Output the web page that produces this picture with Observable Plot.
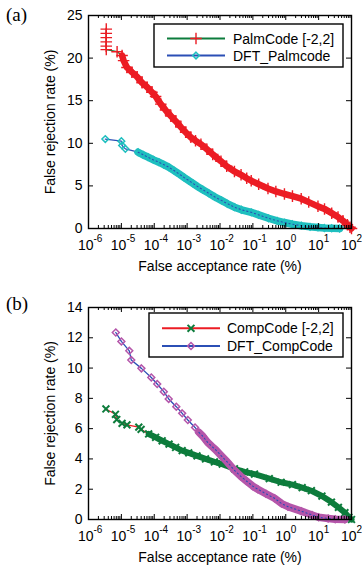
<!DOCTYPE html>
<html><head><meta charset="utf-8">
<script src="https://cdn.jsdelivr.net/npm/d3@7"></script>
<script src="https://cdn.jsdelivr.net/npm/@observablehq/plot@0.6"></script>
<style>
body{margin:0;background:#fff;}
#wrap{position:relative;width:362px;height:571px;font-family:"Liberation Sans",Arial,sans-serif;}
.panel{position:absolute;left:0;}
.plabel{position:absolute;font-family:"Liberation Serif","Times New Roman",serif;font-size:19px;color:#000;}
</style></head><body>
<div id="wrap"></div>
<script>
// ---------- data ----------
const xTickValues = [1e-6, 1e-5, 1e-4, 1e-3, 1e-2, 1e-1, 1e0, 1e1, 1e2];
const xTickExp = ["-6", "-5", "-4", "-3", "-2", "-1", "0", "1", "2"];
const xLabel = "False acceptance rate (%)";
const yLabel = "False rejection rate (%)";

const yTicksA = [0, 5, 10, 15, 20, 25];
const yTicksB = [0, 2, 4, 6, 8, 10, 12, 14];

// (a) PalmCode [-2,2]
const palmFar = [3.47e-6, 3.47e-6, 3.47e-6, 3.47e-6, 3.47e-6, 3.47e-6, 7.41e-6, 1.05e-5, 1.17e-5, 1.48e-5, 2.09e-5, 3.02e-5, 4.27e-5, 6.03e-5, 8.51e-5, 1.1e-4, 1.58e-4, 2.2e-4, 3.2e-4, 4.5e-4, 6.46e-4, 9e-4, 1.3e-3, 1.8e-3, 2.63e-3, 4e-3, 6e-3, 1.07e-2, 1.6e-2, 2.75e-2, 4.37e-2, 6.5e-2, 8.91e-2, 0.15, 0.288, 0.5, 0.912, 1.6, 2.95, 5, 9.55, 15.1, 25, 38.9, 55, 75, 90, 100];
const palmFrr = [23.4, 22.9, 22.4, 21.9, 21.4, 21.0, 20.75, 20.3, 19.7, 18.9, 18.35, 17.8, 17.1, 16.6, 16.0, 15.5, 14.6, 13.9, 13.2, 12.6, 11.9, 11.3, 10.7, 10.3, 9.9, 9.3, 8.7, 7.9, 7.3, 6.7, 6.3, 5.9, 5.6, 5.2, 4.7, 4.35, 4.05, 3.8, 3.5, 3.1, 2.6, 2.3, 1.8, 1.35, 0.9, 0.45, 0.15, 0];
// (a) DFT_Palmcode
const dftPalmFar = [3.24e-6, 1.0e-5, 1.05e-5, 1.32e-5, 3.24e-5, 4.6e-5, 6.46e-5, 9.5e-5, 1.38e-4, 1.95e-4, 2.75e-4, 4e-4, 5.62e-4, 8e-4, 1.12e-3, 1.5e-3, 2.04e-3, 3e-3, 4.5e-3, 7e-3, 1.1e-2, 1.7e-2, 2.75e-2, 4.5e-2, 8.91e-2, 0.15, 0.3, 0.55, 0.912, 1.6, 3, 5.5, 9.55, 15, 25, 43.6];
const dftPalmFrr = [10.5, 10.25, 9.75, 9.35, 8.95, 8.65, 8.37, 8.05, 7.78, 7.5, 7.2, 6.8, 6.42, 6.0, 5.63, 5.3, 4.95, 4.55, 4.15, 3.7, 3.3, 2.9, 2.5, 2.2, 1.9, 1.6, 1.2, 0.9, 0.7, 0.5, 0.33, 0.2, 0.12, 0.06, 0.03, 0.0];
// (b) CompCode [-2,2]
const compFar = [3.39e-6, 6.6e-6, 7.24e-6, 1.05e-5, 1.48e-5, 3.39e-5, 3.98e-5, 6.76e-5, 1.1e-4, 1.74e-4, 2.82e-4, 4.47e-4, 7.08e-4, 1.12e-3, 2e-3, 3.63e-3, 6.76e-3, 1.17e-2, 2.75e-2, 5.6e-2, 0.112, 0.316, 0.724, 1.6, 3.16, 6.03, 12.6, 24.5, 40, 63.1, 83, 100];
const compFrr = [7.3, 6.95, 6.6, 6.35, 6.25, 6.1, 5.95, 5.65, 5.43, 5.2, 4.98, 4.76, 4.55, 4.4, 4.2, 4.0, 3.8, 3.66, 3.35, 3.15, 3.0, 2.7, 2.46, 2.3, 2.1, 1.9, 1.55, 1.15, 0.8, 0.45, 0.15, 0];
// (b) DFT_CompCode
const dftCompFar = [6.76e-6, 1e-5, 1.74e-5, 2e-5, 4.07e-5, 8.13e-5, 1.23e-4, 1.95e-4, 2.75e-4, 4.68e-4, 7.08e-4, 1.05e-3, 1.74e-3, 2.29e-3, 3e-3, 4.17e-3, 5.5e-3, 7.41e-3, 1.1e-2, 1.66e-2, 2.75e-2, 4.3e-2, 6.3e-2, 0.1, 0.141, 0.25, 0.457, 0.75, 1.17, 2.95, 6.3, 10, 19.5, 32, 63.1];
const dftCompFrr = [12.35, 11.76, 11.14, 10.53, 9.98, 9.38, 8.95, 8.44, 7.96, 7.45, 7.01, 6.57, 6.08, 5.75, 5.5, 5.1, 4.85, 4.6, 4.2, 3.8, 3.25, 2.85, 2.55, 2.2, 2.0, 1.7, 1.4, 1.05, 0.85, 0.55, 0.3, 0.15, 0.07, 0.02, 0];

// ---------- helpers ----------
const rows = (far, frr) => far.map((f, i) => ({far: f, frr: frr[i]}));
const minorX = [];
for (let i = 0; i < xTickValues.length - 1; i++) for (let k = 2; k <= 9; k++) minorX.push(xTickValues[i] * k);

const RED = "#ec1c24", GREEN = "#0d7c3c", BLUE = "#2b4fb5", CYAN = "#1fbfbf", MAGENTA = "#b556aa";

const W = 362;
function panel(cfg) {
  const innerH = cfg.height - cfg.marginTop - cfg.marginBottom;
  const innerW = W - 88 - 11;
  const marks = [];
  for (const s of cfg.series) {
    const data = rows(s.far, s.frr);
    const dense = data.filter(d => d.far >= s.denseFrom);
    marks.push(Plot.line(data, {x: "far", y: "frr", stroke: s.lineColor, strokeWidth: 1.3}));
    marks.push(Plot.line(dense, {x: "far", y: "frr", stroke: s.markColor, strokeWidth: s.band}));
    marks.push(Plot.dot(data, {x: "far", y: "frr", symbol: s.symbol, r: s.r, stroke: s.markColor, strokeWidth: s.sw, fill: "none"}));
    if (s.lineOnTop) marks.push(Plot.line(dense, {x: "far", y: "frr", stroke: s.lineColor, strokeWidth: 1.1, strokeDasharray: "1.2,2.8"}));
  }
  // ticks (inward)
  marks.push(Plot.tickX(xTickValues, {x: d => d, insetTop: innerH - 5, stroke: "black", strokeWidth: 1}));
  marks.push(Plot.tickX(xTickValues, {x: d => d, insetBottom: innerH - 5, stroke: "black", strokeWidth: 1}));
  marks.push(Plot.tickX(minorX, {x: d => d, insetTop: innerH - 3, stroke: "black", strokeWidth: 1}));
  marks.push(Plot.tickX(minorX, {x: d => d, insetBottom: innerH - 3, stroke: "black", strokeWidth: 1}));
  marks.push(Plot.tickY(cfg.yTicks, {y: d => d, insetRight: innerW - 5, stroke: "black", strokeWidth: 1}));
  marks.push(Plot.tickY(cfg.yTicks, {y: d => d, insetLeft: innerW - 5, stroke: "black", strokeWidth: 1}));
  marks.push(Plot.frame({stroke: "black", strokeWidth: 1.4}));
  // tick labels
  marks.push(Plot.text(cfg.yTicks, {y: d => d, text: d => String(d), frameAnchor: "left", textAnchor: "end", dx: -6, fontSize: 14, fill: "black"}));
  marks.push(Plot.text(xTickValues, {x: d => d, text: () => "10", frameAnchor: "bottom", textAnchor: "end", dx: 5, dy: 21, fontSize: 14, fill: "black"}));
  marks.push(Plot.text(xTickValues.map((v, i) => ({v, e: xTickExp[i]})), {x: "v", text: "e", frameAnchor: "bottom", textAnchor: "start", dx: 5, dy: 13, fontSize: 10, fill: "black"}));
  marks.push(Plot.text([xLabel], {text: d => d, frameAnchor: "bottom", textAnchor: "middle", dy: 42, fontSize: 14, fill: "black"}));
  marks.push(Plot.text([yLabel], {text: d => d, frameAnchor: "left", textAnchor: "middle", rotate: -90, dx: -38, fontSize: 14, fill: "black"}));

  const svg = Plot.plot({
    width: W, height: cfg.height,
    marginTop: cfg.marginTop, marginBottom: cfg.marginBottom, marginLeft: 88, marginRight: 11,
    style: {fontFamily: '"Liberation Sans", Arial, sans-serif', background: "white", overflow: "visible"},
    x: {type: "log", domain: [1e-6, 1e2], axis: null},
    y: {domain: cfg.yDomain, axis: null},
    marks
  });

  // legend (drawn in pixel space of the figure)
  const L = cfg.legend;
  const g = d3.select(svg).append("g");
  g.append("rect").attr("x", L.x0).attr("y", L.y0).attr("width", L.x1 - L.x0).attr("height", L.y1 - L.y0)
    .attr("fill", "white").attr("stroke", "black").attr("stroke-width", 1.4);
  const symMap = {plus: d3.symbolPlus, diamond2: d3.symbolDiamond2, times: d3.symbolTimes};
  cfg.series.forEach((s, i) => {
    const y = L.rows[i];
    g.append("line").attr("x1", L.lx0).attr("x2", L.lx1).attr("y1", y).attr("y2", y)
      .attr("stroke", s.lineColor).attr("stroke-width", 2);
    g.append("path").attr("transform", `translate(${(L.lx0 + L.lx1) / 2},${y})`)
      .attr("d", d3.symbol(symMap[s.symbol], s.r * s.r * Math.PI)())
      .attr("fill", "none").attr("stroke", s.markColor).attr("stroke-width", s.sw);
    g.append("text").attr("x", L.tx).attr("y", y).attr("dy", "0.36em")
      .attr("text-anchor", "start")
      .attr("font-size", 14).attr("fill", "black").text(s.name);
  });
  return svg;
}

const wrap = document.getElementById("wrap");

const svgA = panel({
  height: 286, marginTop: 15, marginBottom: 58,
  yDomain: [0, 25], yTicks: yTicksA,
  series: [
    {name: "PalmCode [-2,2]", far: palmFar, frr: palmFrr, lineColor: GREEN, markColor: RED, symbol: "plus", r: 3.8, sw: 1.4, band: 6.5, denseFrom: 1e-5, lineOnTop: false},
    {name: "DFT_Palmcode", far: dftPalmFar, frr: dftPalmFrr, lineColor: BLUE, markColor: CYAN, symbol: "diamond2", r: 3.0, sw: 1.5, band: 7.5, denseFrom: 3e-5, lineOnTop: true}
  ],
  legend: {x0: 154, x1: 343, y0: 24, y1: 67, rows: [38.5, 55.5], lx0: 167, lx1: 225, tx: 233}
});
const svgB = panel({
  height: 285, marginTop: 21, marginBottom: 52,
  yDomain: [0, 14], yTicks: yTicksB,
  series: [
    {name: "CompCode [-2,2]", far: compFar, frr: compFrr, lineColor: RED, markColor: GREEN, symbol: "times", r: 3.2, sw: 2, band: 6, denseFrom: 6e-5, lineOnTop: false},
    {name: "DFT_CompCode", far: dftCompFar, frr: dftCompFrr, lineColor: BLUE, markColor: MAGENTA, symbol: "diamond2", r: 3.1, sw: 1.5, band: 7.5, denseFrom: 2e-3, lineOnTop: true}
  ],
  legend: {x0: 149, x1: 343, y0: 27, y1: 71, rows: [42.3, 60], lx0: 162, lx1: 220, tx: 227}
});

const dA = document.createElement("div"); dA.className = "panel"; dA.style.top = "0px"; dA.appendChild(svgA);
const dB = document.createElement("div"); dB.className = "panel"; dB.style.top = "286px"; dB.appendChild(svgB);
wrap.appendChild(dA); wrap.appendChild(dB);

const la = document.createElement("div"); la.className = "plabel"; la.textContent = "(a)"; la.style.left = "6px"; la.style.top = "4px";
const lb = document.createElement("div"); lb.className = "plabel"; lb.textContent = "(b)"; lb.style.left = "6px"; lb.style.top = "293px";
wrap.appendChild(la); wrap.appendChild(lb);
</script>
</body></html>
